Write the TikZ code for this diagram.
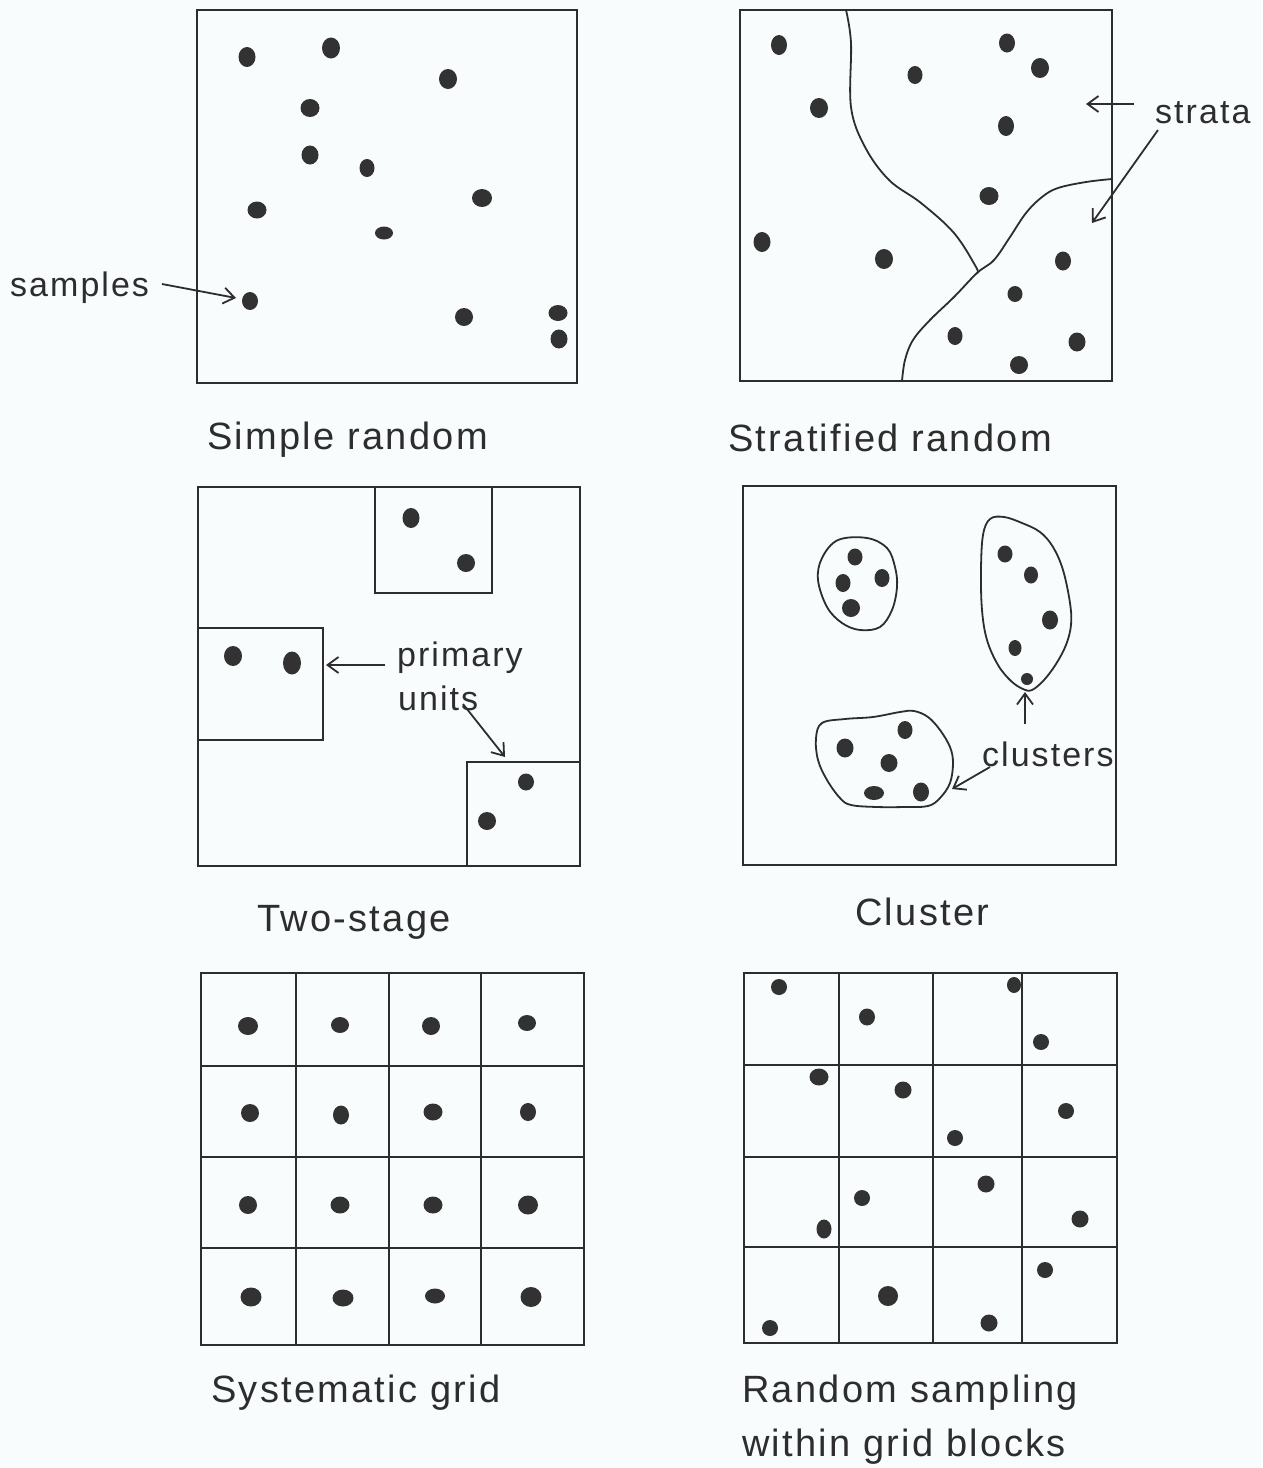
\documentclass[tikz,border=0pt]{standalone}
\usepackage{fontspec}
\setmainfont{Liberation Sans}
\newfontfamily\capfont{Liberation Sans}[LetterSpace=6]
\usetikzlibrary{arrows.meta}
\definecolor{bgc}{RGB}{248,252,252}
\definecolor{inkc}{RGB}{45,45,45}
\definecolor{dotc}{RGB}{50,50,50}
\newcommand{\mydotr}[4]{\fill[dotc] (#1,#2) ellipse [x radius=#3pt, y radius=#4pt];}
\tikzset{
  frame/.style={draw=inkc, line width=2pt},
  bound/.style={draw=inkc, line width=1.8pt},
  arr/.style={draw=inkc, line width=1.8pt, -{Straight Barb[length=11pt,width=16pt,line width=1.8pt]}},
  captxt/.style={anchor=base west, inner sep=0pt, text=inkc, font=\capfont\fontsize{38}{46}\selectfont},
  labtxt/.style={anchor=base west, inner sep=0pt, text=inkc, font=\capfont\fontsize{34}{42}\selectfont}
}
\begin{document}
\begin{tikzpicture}[x=1pt,y=-1pt]
\fill[bgc] (0,0) rectangle (1262,1468);
\useasboundingbox (0,0) rectangle (1262,1468);

% ---------- Panel 1: Simple random ----------
\draw[frame] (197,10) rectangle (577,383);
\mydotr{247}{57}{8.5}{10}
\mydotr{331}{48}{9}{10.5}
\mydotr{448}{79}{9}{10}
\mydotr{310}{108}{9.5}{9}
\mydotr{310}{155}{8.5}{9.5}
\mydotr{367}{168}{7.5}{9}
\mydotr{257}{210}{9.5}{8.5}
\mydotr{482}{198}{10}{9}
\mydotr{384}{233}{9}{6.5}
\mydotr{250}{301}{8}{9}
\mydotr{464}{317}{9}{9}
\mydotr{558}{313}{9.5}{8}
\mydotr{559}{339}{8.5}{9.5}
\node[labtxt] (lsamples) at (10,296) {samples};
\coordinate (ssamples) at (162,284);
\coordinate (tsamples) at (236,298);
\draw[arr] (ssamples) -- (tsamples);
\node[captxt] (csimple) at (207,449) {Simple random};

% ---------- Panel 2: Stratified random ----------
\draw[frame] (740,10) rectangle (1112,381);
\draw[bound] plot[smooth, tension=0.6] coordinates {(846,10) (851,43) (851,107) (865,147) (889,180) (921,203) (954,233) (976,267) (977,273)};
\draw[bound] plot[smooth, tension=0.6] coordinates {(1112,179) (1086,182) (1058,188) (1042,197) (1026,213) (1010,237) (994,260) (977,273) (954,297) (930,320) (913,340) (905,360) (902,381)};
\mydotr{779}{45}{8}{10}
\mydotr{1007}{43}{8}{9.5}
\mydotr{1040}{68}{9}{10}
\mydotr{915}{75}{7.5}{9}
\mydotr{819}{108}{9}{10}
\mydotr{1006}{126}{8}{10}
\mydotr{989}{196}{9.5}{9}
\mydotr{762}{242}{8.5}{10}
\mydotr{884}{259}{9}{10}
\mydotr{1063}{261}{8}{9.5}
\mydotr{1015}{294}{7.5}{8}
\mydotr{955}{336}{7.5}{9}
\mydotr{1077}{342}{8.5}{9.5}
\mydotr{1019}{365}{9}{9}
\node[labtxt] (lstrata) at (1155,123) {strata};
\coordinate (sstrata1) at (1134,104);
\coordinate (tstrata1) at (1086,104);
\coordinate (sstrata2) at (1158,130);
\coordinate (tstrata2) at (1092,223);
\draw[arr] (sstrata1) -- (tstrata1);
\draw[arr] (sstrata2) -- (tstrata2);
\node[captxt] (cstrat) at (728,451) {Stratified random};

% ---------- Panel 3: Two-stage ----------
\draw[frame] (198,487) rectangle (580,866);
\draw[frame] (375,487) rectangle (492,593);
\draw[frame] (198,628) rectangle (323,740);
\draw[frame] (467,762) rectangle (580,866);
\mydotr{411}{518}{8.5}{10}
\mydotr{466}{563}{9}{9}
\mydotr{233}{656}{9}{10}
\mydotr{292}{663}{9}{11.5}
\mydotr{526}{782}{8}{8.5}
\mydotr{487}{821}{9}{9}
\node[labtxt] (lprimary) at (397,666) {primary};
\node[labtxt] (lunits) at (398,710) {units};
\coordinate (sprim1) at (385,665);
\coordinate (tprim1) at (326,665);
\coordinate (sprim2) at (463,704);
\coordinate (tprim2) at (505,757);
\draw[arr] (sprim1) -- (tprim1);
\draw[arr] (sprim2) -- (tprim2);
\node[captxt] (ctwo) at (257,931) {Two-stage};

% ---------- Panel 4: Cluster ----------
\draw[frame] (743,486) rectangle (1116,865);
\draw[bound] plot[smooth cycle, tension=0.6] coordinates {(838,540) (867,538) (887,548) (895,567) (897,587) (892,610) (880,627) (860,630) (842,623) (827,607) (818,580) (822,558)};
\draw[bound] plot[smooth cycle, tension=0.6] coordinates {(990,519) (1004,517) (1022,523) (1040,532) (1053,547) (1063,570) (1070,603) (1071,625) (1066,645) (1056,664) (1044,680) (1032,690) (1023,689) (1011,681) (998,665) (987,640) (982,610) (981,570) (983,535)};
\draw[bound] plot[smooth cycle, tension=0.6] coordinates {(822,723) (845,719) (873,717) (900,712) (914,711) (928,717) (940,730) (950,747) (953,763) (950,783) (940,798) (928,806) (905,807) (877,807) (851,805) (840,798) (827,780) (818,760) (816,738)};
\mydotr{855}{557}{7.5}{8.5}
\mydotr{843}{583}{7.5}{9}
\mydotr{882}{578}{7.5}{9}
\mydotr{851}{608}{9}{9}
\mydotr{1005}{554}{7.5}{8.5}
\mydotr{1031}{575}{7}{8.5}
\mydotr{1050}{620}{8}{9.5}
\mydotr{1015}{648}{6.5}{8}
\mydotr{1027}{679}{6}{6}
\mydotr{845}{748}{8.5}{9.5}
\mydotr{905}{730}{7.5}{9}
\mydotr{889}{763}{8.5}{9}
\mydotr{874}{793}{10}{7}
\mydotr{921}{792}{8}{9.5}
\node[labtxt] (lclusters) at (982,766) {clusters};
\coordinate (sclu1) at (1025,724);
\coordinate (tclu1) at (1025,692);
\coordinate (sclu2) at (990,767);
\coordinate (tclu2) at (952,789);
\draw[arr] (sclu1) -- (tclu1);
\draw[arr] (sclu2) -- (tclu2);
\node[captxt] (ccluster) at (855,925) {Cluster};

% ---------- Panel 5: Systematic grid ----------
\draw[frame] (201,973) rectangle (584,1345);
\foreach \xx in {296,389,481} \draw[frame] (\xx,973) -- (\xx,1345);
\foreach \yy in {1066,1157,1248} \draw[frame] (201,\yy) -- (584,\yy);
\mydotr{248}{1026}{10}{9}
\mydotr{340}{1025}{9}{8}
\mydotr{431}{1026}{9}{9}
\mydotr{527}{1023}{9}{8}
\mydotr{250}{1113}{9}{9}
\mydotr{341}{1115}{8}{9.5}
\mydotr{433}{1112}{9.5}{8.5}
\mydotr{528}{1112}{8}{9}
\mydotr{248}{1205}{9}{9}
\mydotr{340}{1205}{9.5}{8.5}
\mydotr{433}{1205}{9.5}{8.5}
\mydotr{528}{1205}{10}{9.5}
\mydotr{251}{1297}{10.5}{9.5}
\mydotr{343}{1298}{10.5}{8.5}
\mydotr{435}{1296}{10}{7.5}
\mydotr{531}{1297}{10.5}{10}
\node[captxt] (csyst) at (211,1402) {Systematic grid};

% ---------- Panel 6: Random within grid blocks ----------
\draw[frame] (744,973) rectangle (1117,1343);
\foreach \xx in {839,933,1022} \draw[frame] (\xx,973) -- (\xx,1343);
\foreach \yy in {1065,1157,1247} \draw[frame] (744,\yy) -- (1117,\yy);
\mydotr{779}{987}{8}{8}
\mydotr{867}{1017}{8}{8.5}
\mydotr{1014}{985}{7}{8}
\mydotr{1041}{1042}{8}{8}
\mydotr{819}{1077}{9.5}{8.5}
\mydotr{903}{1090}{8.5}{8.5}
\mydotr{1066}{1111}{8}{8}
\mydotr{955}{1138}{8}{8}
\mydotr{862}{1198}{8}{8}
\mydotr{986}{1184}{8.5}{8.5}
\mydotr{824}{1229}{7.5}{9.5}
\mydotr{1080}{1219}{8.5}{8.5}
\mydotr{1045}{1270}{8}{8}
\mydotr{888}{1296}{10}{10}
\mydotr{770}{1328}{8}{8}
\mydotr{989}{1323}{8.5}{8.5}
\node[captxt] (crand1) at (742,1402) {Random sampling};
\node[captxt] (crand2) at (742,1456) {within grid blocks};
\end{tikzpicture}
\end{document}
